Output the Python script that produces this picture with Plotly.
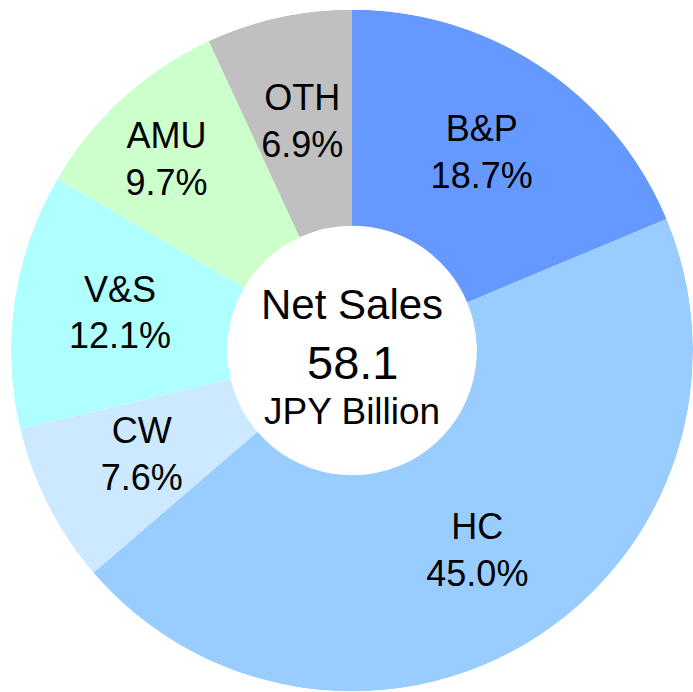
import plotly.graph_objects as go

segments = ["B&P", "HC", "CW", "V&S", "AMU", "OTH"]
shares = [18.7, 45.0, 7.6, 12.1, 9.7, 6.9]
center_lines = ["Net Sales", "58.1", "JPY Billion"]

# ---- styling ----
colors = ["#6699FF", "#99CCFF", "#CCE9FF", "#AFFFFF", "#CCFFCC", "#C0C0C0"]
label_radius = [0.686, 0.700, 0.692, 0.688, 0.775, 0.678]
label_angle_nudge = [0, 0, 0, 0, -2.3, 0]
HOLE = 0.366
FONT = "Liberation Sans, Arial, sans-serif"

total = sum(shares)
spans = [v / total * 360 for v in shares]
starts = [sum(spans[:i]) for i in range(len(spans))]
mids = [s + w / 2 for s, w in zip(starts, spans)]

fig = go.Figure()
fig.add_trace(go.Barpolar(
    theta=mids,
    width=spans,
    base=[HOLE] * len(shares),
    r=[1 - HOLE] * len(shares),
    marker=dict(color=colors, line=dict(width=0)),
    hoverinfo="skip",
    showlegend=False,
))
fig.add_trace(go.Scatterpolar(
    theta=[m + n for m, n in zip(mids, label_angle_nudge)],
    r=label_radius,
    mode="text",
    text=[f"{s}<br>{v:.1f}%" for s, v in zip(segments, shares)],
    textposition="middle center",
    textfont=dict(family=FONT, size=36, color="black"),
    hoverinfo="skip",
    showlegend=False,
))

fig.update_layout(
    width=693, height=692,
    margin=dict(l=11, r=0, t=9, b=0),
    paper_bgcolor="white",
    polar=dict(
        domain=dict(x=[0, 1], y=[0, 1]),
        bgcolor="rgba(0,0,0,0)",
        bargap=0,
        radialaxis=dict(range=[0, 1], visible=False, showgrid=False),
        angularaxis=dict(rotation=90, direction="clockwise", visible=False,
                         showgrid=False, showline=False),
    ),
    annotations=[
        dict(x=0.5, y=0.567, xref="paper", yref="paper", showarrow=False,
             text=center_lines[0], font=dict(family=FONT, size=42, color="black")),
        dict(x=0.5, y=0.483, xref="paper", yref="paper", showarrow=False,
             text=center_lines[1], font=dict(family=FONT, size=47, color="black")),
        dict(x=0.5, y=0.411, xref="paper", yref="paper", showarrow=False,
             text=center_lines[2], font=dict(family=FONT, size=37, color="black")),
    ],
)

fig.write_html(
    "out.html",
    config={"displayModeBar": False},
    post_script="document.body.style.margin='0';document.body.style.overflow='hidden';",
)
